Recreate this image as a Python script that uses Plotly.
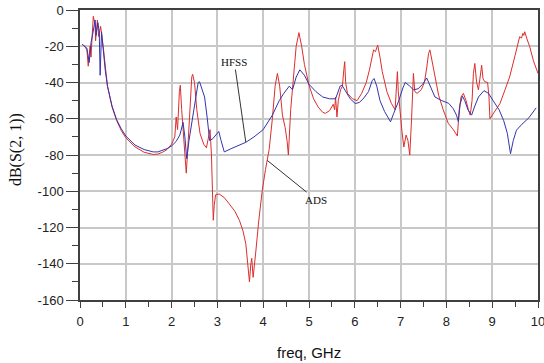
import plotly.graph_objects as go

# HFSS (blue) simulated S21
hfss_freq = [0.05, 0.1, 0.15, 0.2, 0.24, 0.28, 0.33, 0.35, 0.39, 0.42, 0.44, 0.47, 0.51, 0.55, 0.6,
             0.7, 0.8, 0.9, 1.0, 1.2, 1.4, 1.6, 1.7, 1.8, 1.9, 2.0, 2.1, 2.18, 2.25, 2.29, 2.33, 2.38,
             2.45, 2.52, 2.58, 2.61, 2.66, 2.72, 2.78, 2.83, 2.9, 2.97, 3.03, 3.08, 3.15, 3.3, 3.5,
             3.62, 3.8, 4.0, 4.2, 4.35, 4.45, 4.57, 4.64, 4.72, 4.8, 4.9, 5.0, 5.15, 5.3, 5.45, 5.58,
             5.63, 5.68, 5.72, 5.8, 5.9, 6.01, 6.1, 6.2, 6.3, 6.38, 6.42, 6.48, 6.55, 6.65, 6.78,
             6.85, 6.96, 7.05, 7.1, 7.2, 7.28, 7.38, 7.48, 7.57, 7.65, 7.75, 7.9, 8.05, 8.15, 8.22,
             8.26, 8.3, 8.35, 8.4, 8.47, 8.55, 8.62, 8.7, 8.82, 8.92, 9.02, 9.15, 9.25, 9.33, 9.4,
             9.46, 9.53, 9.65, 9.8, 9.96]
hfss_db = [-19, -20, -21, -29, -18, -13, -5.5, -14, -7, -12, -36, -12, -24, -33, -42,
           -53, -60.5, -65.5, -69.5, -74.5, -77, -78.3, -78.3, -77.5, -76.5, -75, -72.5, -69, -62, -70, -82, -72,
           -60, -50, -40, -39.6, -44, -48, -60, -72, -71, -69, -67, -72, -78.3, -76.5, -74.5,
           -73, -70, -66, -58, -50, -46, -42, -44, -37, -33, -36, -41, -45, -48, -49, -49,
           -45, -42, -41.5, -45, -49, -51.6, -51, -48.5, -45, -39, -37.8, -42, -50, -56, -61.7,
           -57, -50, -43, -40, -42, -44, -43.5, -41, -37.5, -42, -48, -50, -51.5, -54.5, -58,
           -61.5, -52, -47.5, -50, -55, -58, -53, -48, -44.5, -46, -50, -55, -61, -68, -79.3,
           -72, -66.3, -63, -59.5, -54]

# ADS (red) simulated S21
ads_freq = [0.05, 0.1, 0.15, 0.18, 0.22, 0.24, 0.29, 0.33, 0.34, 0.38, 0.41, 0.45, 0.51, 0.55, 0.6,
            0.7, 0.8, 0.9, 1.0, 1.2, 1.4, 1.6, 1.7, 1.8, 1.9, 2.0, 2.07, 2.1, 2.13, 2.17, 2.19, 2.22,
            2.26, 2.3, 2.32, 2.35, 2.4, 2.44, 2.46, 2.5, 2.55, 2.62, 2.7, 2.76, 2.8, 2.84, 2.87, 2.9,
            2.91, 2.93, 2.96, 3.04, 3.15, 3.26, 3.38, 3.48, 3.56, 3.62, 3.67, 3.70, 3.73, 3.75, 3.78,
            3.81, 3.84, 3.9, 3.98, 4.05, 4.13, 4.2, 4.26, 4.31, 4.36, 4.42, 4.48, 4.52, 4.55, 4.6,
            4.66, 4.72, 4.78, 4.84, 4.9, 5.0, 5.1, 5.2, 5.3, 5.36, 5.45, 5.53, 5.56, 5.58, 5.61, 5.64,
            5.69, 5.73, 5.76, 5.78, 5.8, 5.84, 5.95, 6.05, 6.15, 6.25, 6.32, 6.38, 6.41, 6.45, 6.5,
            6.55, 6.6, 6.7, 6.8, 6.88, 6.91, 6.93, 6.95, 6.99, 7.03, 7.07, 7.12, 7.16, 7.2, 7.24,
            7.28, 7.31, 7.36, 7.45, 7.52, 7.57, 7.61, 7.64, 7.68, 7.74, 7.83, 7.93, 8.04, 8.15, 8.24,
            8.28, 8.32, 8.37, 8.43, 8.48, 8.52, 8.56, 8.59, 8.62, 8.66, 8.7, 8.73, 8.77, 8.8, 8.84,
            8.9, 8.93, 8.95, 9.05, 9.17, 9.28, 9.38, 9.5, 9.6, 9.64, 9.67, 9.69, 9.71, 9.76, 9.82,
            9.9, 9.96, 10.0]
ads_db = [-19, -20, -22, -31, -20, -26, -3.5, -8, -17, -5.5, -14.7, -9, -21, -32, -42,
          -53.5, -61, -66.5, -70.5, -75.5, -78.5, -79.7, -79.5, -78.5, -77, -74, -70, -59, -66, -45, -41.5, -55,
          -70, -86.7, -90, -78, -55, -37, -35.5, -40, -55, -68, -74, -76, -71, -66, -80, -105,
          -116, -108, -102, -101.5, -103.5, -107, -111, -116, -122, -129, -140, -150, -140, -137, -147.5,
          -138, -133, -117, -99.5, -88, -77, -60, -42, -35, -42, -58, -65, -72, -80, -55,
          -35, -20, -12.5, -20, -30, -41.5, -49, -53.5, -56.5, -57, -55.5, -52, -55, -48, -59, -50,
          -44, -42, -33, -28.5, -40, -46, -49, -50, -46, -40, -33, -26, -22, -23, -19.4,
          -26, -34, -45, -51.6, -55, -45, -34, -45, -57, -67, -75.6, -69, -72, -80, -60,
          -35, -45, -46, -44, -40, -32, -24, -22, -27, -35, -47, -55, -62.5, -66, -69.5,
          -55, -48, -46, -50, -55, -58, -50, -35, -29.5, -40, -44, -38, -30.5, -38, -39.6,
          -40, -48, -60, -56.5, -51.6, -44, -37, -25, -14.7, -15.5, -12.9, -14, -12, -16, -20.3,
          -28, -33, -35]

x_ticks = [0, 1, 2, 3, 4, 5, 6, 7, 8, 9, 10]
y_ticks = [0, -20, -40, -60, -80, -100, -120, -140, -160]

# label texts and their anchor points
hfss_label = ("HFSS", 3.37, -28.7, 3.62, -72.9)
ads_label = ("ADS", 5.15, -104.6, 4.09, -83.0)

RED = "rgb(222,45,45)"
BLUE = "rgb(52,52,172)"
AXIS = "#404040"
GRID = "#c8c8c8"
SERIF = "Liberation Serif, Times New Roman, serif"
SANS = "Liberation Sans, Arial, sans-serif"

fig = go.Figure()
fig.add_trace(go.Scatter(x=ads_freq, y=ads_db, mode="lines", name="ADS",
                         line=dict(color=RED, width=1)))
fig.add_trace(go.Scatter(x=hfss_freq, y=hfss_db, mode="lines", name="HFSS",
                         line=dict(color=BLUE, width=1)))

for text, tx, ty, px, py in (hfss_label, ads_label):
    fig.add_annotation(x=px, y=py, ax=tx, ay=ty, axref="x", ayref="y", xref="x", yref="y",
                       text=text, showarrow=True, arrowhead=0, arrowwidth=1,
                       arrowcolor="#333333",
                       font=dict(family=SERIF, size=11, color="#111111"))

fig.add_annotation(text="dB(S(2, 1))", xref="paper", yref="paper", x=-0.14, y=0.52,
                   textangle=-90, showarrow=False, xanchor="center", yanchor="middle",
                   font=dict(family=SERIF, size=16, color="#111111"))
fig.add_annotation(text="freq, GHz", xref="paper", yref="paper", x=0.5, y=-0.18,
                   showarrow=False, xanchor="center", yanchor="middle",
                   font=dict(family=SANS, size=15, color="#111111"))

fig.update_xaxes(range=[0, 10], tickvals=x_ticks, ticktext=[str(v) for v in x_ticks],
                 automargin=False, ticklabeloverflow="allow", ticklabelstandoff=3,
                 showgrid=True, gridcolor=GRID, gridwidth=1.5, zeroline=False,
                 showline=True, linecolor=AXIS, linewidth=1.5, mirror=True,
                 ticks="outside", ticklen=6, tickcolor=AXIS, tickwidth=1,
                 minor=dict(dtick=0.5, tick0=0, ticks="outside", ticklen=5, tickcolor=AXIS, showgrid=False),
                 tickfont=dict(family=SANS, size=13, color="#222222"))
fig.update_yaxes(range=[-160, 0], tickvals=y_ticks, ticktext=[str(v) for v in y_ticks],
                 automargin=False, ticklabeloverflow="allow",
                 showgrid=True, gridcolor=GRID, gridwidth=1.5, zeroline=False,
                 showline=True, linecolor=AXIS, linewidth=1.5, mirror=True,
                 ticks="outside", ticklen=12, tickcolor=AXIS, tickwidth=1,
                 minor=dict(dtick=10, tick0=0, ticks="outside", ticklen=6, tickcolor=AXIS, showgrid=False),
                 tickfont=dict(family=SANS, size=13, color="#222222"))

fig.update_layout(width=544, height=363, margin=dict(l=80, r=6, t=10, b=63, autoexpand=False),
                  plot_bgcolor="white", paper_bgcolor="white", showlegend=False)

fig.write_html("out.html", config={"displayModeBar": False},
               post_script="document.body.style.margin='0';document.body.style.overflow='hidden';")
